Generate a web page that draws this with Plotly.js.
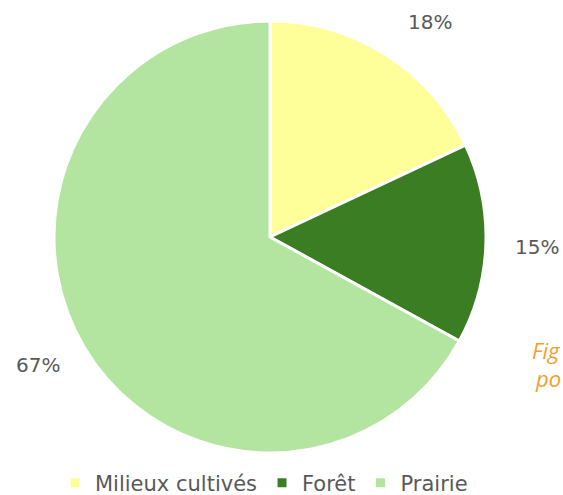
<!DOCTYPE html>
<html>
<head>
<meta charset="utf-8">
<script src="https://cdn.plot.ly/plotly-3.0.1.min.js"></script>
<style>html,body{margin:0;padding:0;background:#fff;}#chart{width:563px;height:495px;}</style>
</head>
<body>
<div id="chart"></div>
<script>
const categories = ["Milieux cultivés", "Forêt", "Prairie"];
const shares = [18, 15, 67];
const sliceColors = ["#FFFF99", "#3B7D23", "#B3E5A1"];
const labelPos = [[430, 22], [537, 247], [38, 365]]; // label centres in px (style)

const W = 563, H = 495;
const FONT = "DejaVu Sans, sans-serif";
const traces = [{
  type: "pie",
  labels: categories,
  values: shares,
  sort: false,
  direction: "clockwise",
  rotation: 0,
  textinfo: "none",
  hoverinfo: "label+percent",
  marker: {colors: sliceColors, line: {color: "#FFFFFF", width: 3}},
  domain: {x: [(270 - 216) / W, (270 + 216) / W], y: [(258 - 216) / H, (258 + 216) / H]}
}];

const total = shares.reduce((a, b) => a + b, 0);
const annotations = shares.map((v, i) => ({
  text: Math.round(v / total * 100) + "%",
  x: labelPos[i][0] / W, y: 1 - labelPos[i][1] / H,
  xref: "paper", yref: "paper", xanchor: "center", yanchor: "middle",
  showarrow: false,
  font: {family: FONT, size: 20, color: "#595959"}
}));
annotations.push({
  text: "<i>Fig</i>", x: 1, y: 1 - 350 / H, xref: "paper", yref: "paper",
  xanchor: "right", yanchor: "middle", showarrow: false,
  font: {family: "Open Sans, sans-serif", size: 22, color: "#F0A030"}
});
annotations.push({
  text: "<i>po</i>", x: 1, y: 1 - 378 / H, xref: "paper", yref: "paper",
  xanchor: "right", yanchor: "middle", showarrow: false,
  font: {family: "Open Sans, sans-serif", size: 22, color: "#F0A030"}
});

const layout = {
  width: W, height: H,
  margin: {l: 0, r: 0, t: 0, b: 0, autoexpand: false},
  paper_bgcolor: "#FFFFFF",
  showlegend: true,
  legend: {
    orientation: "h", x: 55 / W, xanchor: "left", y: 1 - 483 / H, yanchor: "middle",
    font: {family: FONT, size: 21, color: "#595959"},
    itemwidth: 30, traceorder: "normal"
  },
  annotations: annotations
};
Plotly.newPlot("chart", traces, layout, {displayModeBar: false, staticPlot: true});
</script>
</body>
</html>
